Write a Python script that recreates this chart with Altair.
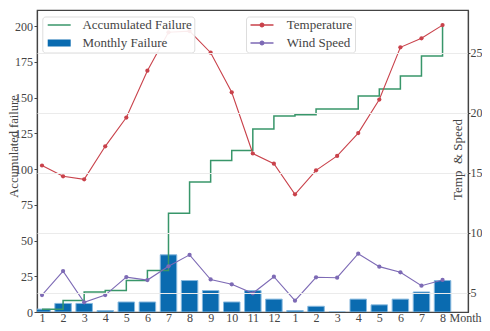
import altair as alt
import pandas as pd

# ---- data ----
idx = list(range(1, 21))
month_labels = [1, 2, 3, 4, 5, 6, 7, 8, 9, 10, 11, 12, 1, 2, 3, 4, 5, 6, 7, 8]
monthly_failure = [2, 6, 6, 1, 7, 7, 40, 22, 15, 7, 15, 9, 1, 4, 0, 9, 5, 9, 14, 22]
accumulated_failure = [2, 8, 14, 15, 22, 29, 69, 91, 106, 113, 128, 137, 138, 142, 142, 151, 156, 165, 179, 201]
temperature = [15.6, 14.7, 14.45, 17.2, 19.6, 23.5, 26.7, 26.8, 25.0, 21.7,
               16.6, 15.75, 13.2, 15.2, 16.4, 18.3, 21.1, 25.45, 26.2, 27.3]
wind_speed = [4.8, 6.8, 4.2, 4.8, 6.3, 6.05, 7.2, 8.15, 6.1, 5.7,
              4.95, 6.33, 4.33, 6.28, 6.25, 8.25, 7.17, 6.7, 5.58, 6.06]
left_ticks = [0, 25, 50, 75, 100, 125, 150, 175, 200]
right_ticks = [5, 10, 15, 20, 25]

AF, MF = "Accumulated Failure", "Monthly Failure"
TE, WS = "Temperature", "Wind Speed"

GREEN, BLUE, BLUE_EDGE = "#38966a", "#0a6bb0", "#86b8de"
RED, PURPLE = "#c9424b", "#7d6ab5"
FONT = "Liberation Serif"
TXT = "#444444"

fail_df = pd.DataFrame({"idx": idx, "monthly": monthly_failure,
                        "acc": accumulated_failure, "series": AF})
env_df = pd.DataFrame({
    "idx": idx * 2,
    "val": temperature + wind_speed,
    "series": [TE] * 20 + [WS] * 20,
})

label_map = "{" + ",".join(f"'{i}':'{m}'" for i, m in zip(idx, month_labels)) + "}"

x_scale = alt.Scale(domain=[1, 20.97], nice=False, zero=False)
x_axis = alt.Axis(
    values=idx, labelExpr=f"{label_map}[datum.value + '']",
    ticks=False, tickSize=0, grid=False, labelOverlap=False, labelFlush=True,
    labelBaseline="alphabetic", labelPadding=9,
    labelFont=FONT, labelFontSize=12, labelColor=TXT,
    domainColor="#444", domainWidth=1.2,
    title="Month", titleFont=FONT, titleFontSize=12, titleFontWeight="normal",
    titleColor=TXT, titleAlign="left", titleBaseline="alphabetic",
    titleX=412, titleY=9, titleAnchor="start",
)


def xe():
    return alt.X("idx:Q", scale=x_scale, axis=x_axis)


y_left_scale = alt.Scale(domain=[0, 211.2], nice=False, zero=False)
y_left_axis = alt.Axis(
    values=left_ticks, grid=False, tickSize=3, tickColor="#444",
    labelOverlap=False, labelFont=FONT, labelFontSize=12, labelColor=TXT, labelPadding=1.5,
    domainColor="#444", domainWidth=1.2,
    title="Accumulated failure", titleFont=FONT, titleFontSize=12.5, titleFontWeight="normal",
    titleColor=TXT, titleAngle=270, titleX=-19.5, titleY=136,
    titleBaseline="alphabetic", titleAlign="center",
)

legend1 = alt.Legend(
    title=None, orient="none", legendX=5.3, legendY=6.5,
    symbolType="M-4,0L4,0", symbolSize=33, symbolOffset=8.4, labelOffset=16.7,
    clipHeight=13,
    labelFontSize=13, labelFont=FONT, labelColor=TXT,
    padding=2, rowPadding=4, fillColor="rgba(255,255,255,0.9)",
    strokeColor="#dddddd", cornerRadius=3,
)

bars = alt.Chart(fail_df).mark_bar(
    width=16.5, color=BLUE, stroke=BLUE_EDGE, strokeWidth=1, clip=True
).encode(
    x=xe(),
    y=alt.Y("monthly:Q", scale=y_left_scale, axis=y_left_axis),
)

step = alt.Chart(fail_df).mark_line(interpolate="step-after").encode(
    x=xe(),
    y=alt.Y("acc:Q", scale=y_left_scale, axis=y_left_axis),
    color=alt.Color("series:O", scale=alt.Scale(domain=[AF, MF], range=[GREEN, BLUE]),
                    legend=legend1),
    strokeWidth=alt.StrokeWidth("series:O",
                                scale=alt.Scale(type="ordinal", domain=[AF, MF], range=[1.5, 7]),
                                legend=legend1),
)

left = alt.layer(bars, step)

y_right_scale = alt.Scale(domain=[3.39, 28.56], nice=False, zero=False)
y_right_axis = alt.Axis(
    values=right_ticks, grid=True, gridColor="#ebebeb", gridWidth=1,
    tickSize=2, tickColor="#444", labelOverlap=False,
    labelFont=FONT, labelFontSize=12, labelColor=TXT, labelPadding=0,
    domainColor="#444", domainWidth=1.2, zindex=1,
    title="Temp \u00a0& Speed", titleFont=FONT, titleFontSize=13, titleFontWeight="normal",
    titleColor=TXT, titleAngle=270, titleX=-11, titleY=149,
    titleBaseline="middle", titleAlign="center",
)

legend2 = alt.Legend(
    title=None, orient="none", legendX=209, legendY=6.5,
    symbolType="M-4,0L4,0M-0.6,0A0.6,0.6,0,1,1,0.6,0A0.6,0.6,0,1,1,-0.6,0Z",
    symbolSize=33, symbolStrokeWidth=1.5, symbolOffset=7.5, labelOffset=18.3,
    clipHeight=13,
    labelFontSize=13, labelFont=FONT, labelColor=TXT,
    padding=2, rowPadding=4, fillColor="rgba(255,255,255,0.9)",
    strokeColor="#dddddd", cornerRadius=3,
)
env_color = alt.Color("series:N", scale=alt.Scale(domain=[TE, WS], range=[RED, PURPLE]),
                      legend=legend2)

env_line = alt.Chart(env_df).mark_line(strokeWidth=1.1).encode(
    x=xe(),
    y=alt.Y("val:Q", scale=y_right_scale, axis=y_right_axis),
    color=env_color,
)
env_pts = alt.Chart(env_df).mark_point(filled=True, size=18, opacity=1).encode(
    x=xe(),
    y=alt.Y("val:Q", scale=y_right_scale, axis=y_right_axis),
    color=env_color,
)
right = alt.layer(env_line, env_pts)

chart = alt.layer(left, right).resolve_scale(
    y="independent", color="independent", strokeWidth="independent"
).properties(
    width=431, height=302,
    autosize=alt.AutoSizeParams(type="none"),
    padding={"left": 29, "top": 2, "right": 14, "bottom": 11},
).configure(
    font=FONT, background="white",
).configure_axis(
    labelFont=FONT, titleFont=FONT, labelOverlap=False,
).configure_legend(
    labelFont=FONT,
).configure_view(
    stroke="#444444", strokeWidth=1.2,
)

chart.save("out.html", embed_options={"renderer": "svg", "actions": False})
